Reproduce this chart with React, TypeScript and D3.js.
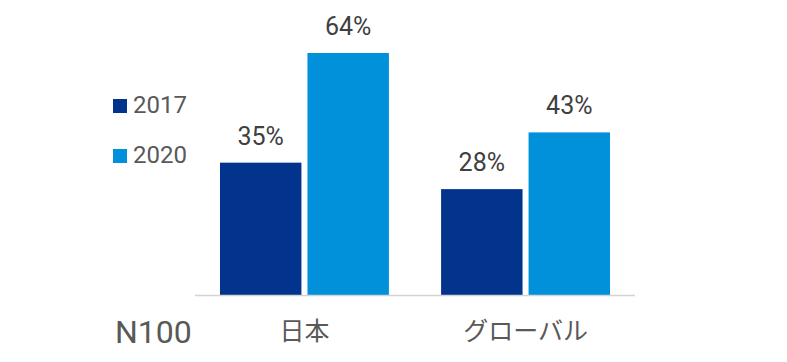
import * as d3 from "d3";

const categories = ["日本", "グローバル"];
const seriesNames = ["2017", "2020"];
const values2017 = [35, 28];
const values2020 = [64, 43];
const colors = ["#02338d", "#0091da"];
const sampleLabel = "N100";

const W = 787;
const H = 362;
const font = "Roboto, 'Noto Sans CJK JP', sans-serif";

const App = () => {
  const baseY = 295;
  const x0 = d3
    .scaleBand<string>()
    .domain(categories)
    .range([195, 635])
    .paddingInner(0.236)
    .paddingOuter(0.113);
  const x1 = d3
    .scaleBand<string>()
    .domain(seriesNames)
    .range([0, x0.bandwidth()])
    .paddingInner(0.069)
    .paddingOuter(0);
  const y = d3.scaleLinear().domain([0, 64]).range([baseY, 53]);

  const rows = categories.map((c, i) => ({
    cat: c,
    vals: [values2017[i], values2020[i]],
  }));

  return (
    <svg
      width={W}
      height={H}
      style={{ position: "absolute", left: 0, top: 0, background: "#fff" }}
      fontFamily={font}
    >
      {/* bars + value labels */}
      {rows.map((r) => (
        <g key={r.cat} transform={`translate(${x0(r.cat)},0)`}>
          {r.vals.map((v, j) => {
            const bx = x1(seriesNames[j]) as number;
            return (
              <g key={j}>
                <rect
                  x={bx}
                  y={y(v)}
                  width={x1.bandwidth()}
                  height={baseY - y(v)}
                  fill={colors[j]}
                />
                <text
                  x={bx + x1.bandwidth() / 2}
                  y={y(v) - 18}
                  textAnchor="middle"
                  fontSize={25}
                  fill="#404040"
                >
                  {v}%
                </text>
              </g>
            );
          })}
        </g>
      ))}

      {/* baseline */}
      <line
        x1={x0.range()[0]}
        x2={x0.range()[1]}
        y1={baseY + 0.5}
        y2={baseY + 0.5}
        stroke="#d4d4d4"
        strokeWidth={1.5}
      />

      {/* category labels */}
      {categories.map((c) => (
        <text
          key={c}
          x={(x0(c) as number) + x0.bandwidth() / 2}
          y={340}
          textAnchor="middle"
          fontSize={25}
          fill="#595959"
        >
          {c}
        </text>
      ))}

      <text x={115} y={343} fontSize={32} fill="#595959">
        {sampleLabel}
      </text>

      {/* legend */}
      {seriesNames.map((s, i) => (
        <g key={s} transform={`translate(113,${99 + i * 50})`}>
          <rect width={14} height={14} fill={colors[i]} />
          <text x={20} y={14} fontSize={24} fill="#595959">
            {s}
          </text>
        </g>
      ))}
    </svg>
  );
};

export default App;
